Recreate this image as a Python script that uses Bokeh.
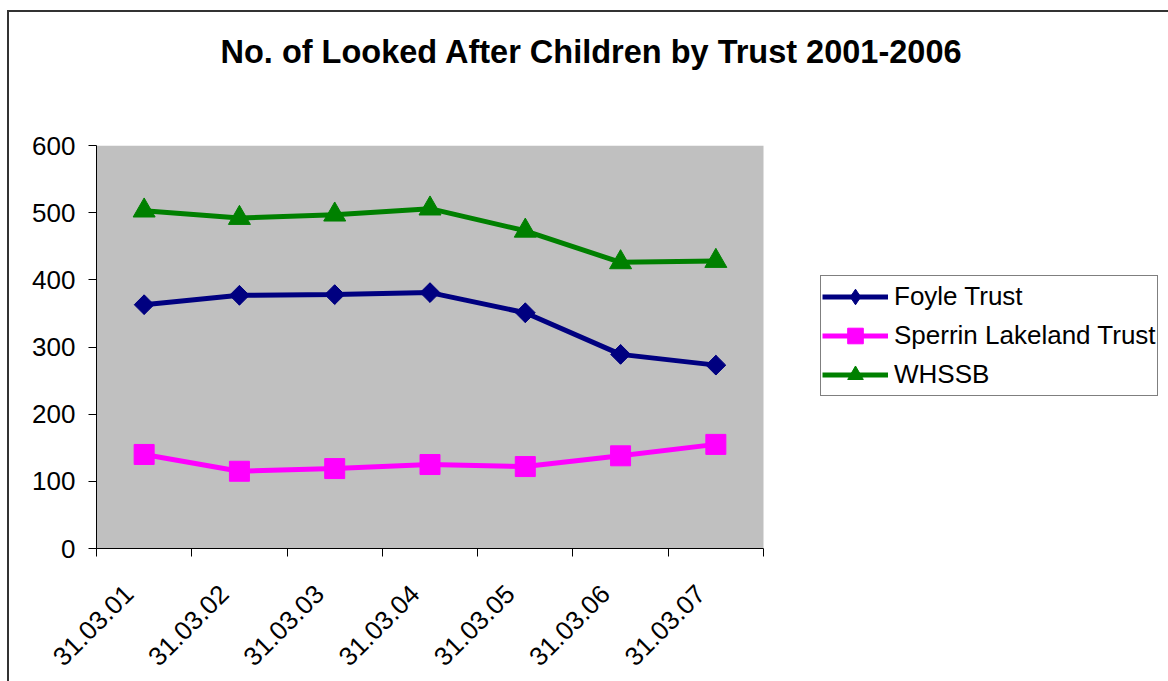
import math
from bokeh.plotting import figure
from bokeh.models import (Range1d, FixedTicker, Legend, LegendItem, Title, InlineStyleSheet,
                          BoxAnnotation)
from bokeh.embed import file_html
from bokeh.resources import INLINE

categories = ["31.03.01", "31.03.02", "31.03.03", "31.03.04", "31.03.05", "31.03.06", "31.03.07"]
foyle = [363, 377, 378, 381, 351, 289, 273]
sperrin = [140, 115, 119, 125, 122, 138, 155]
whssb = [503, 492, 497, 506, 473, 426, 428]
y_ticks = [0, 100, 200, 300, 400, 500, 600]
title_text = "No. of Looked After Children by Trust  2001-2006"

FONT = "Liberation Sans"
FS = "26px"
n = len(categories)
xs = [i + 0.5 for i in range(n)]

# Frame spans to the right edge so the legend (drawn inside it) is not clipped;
# the grey plot area covers only the categories.
W, H = 1168, 681
LEFT, TOP, BOTTOM = 96, 145, 133
plot_w = 667  # pixel width of the grey plot area
x_end = n * (W - LEFT) / plot_w

p = figure(width=W, height=H, output_backend="svg", toolbar_location=None,
           x_range=Range1d(0, x_end), y_range=Range1d(0, 600),
           min_border_left=LEFT, min_border_right=0, min_border_top=TOP, min_border_bottom=BOTTOM)
p.background_fill_color = "white"
p.border_fill_color = "white"
p.outline_line_color = None
p.xgrid.visible = False
p.ygrid.visible = False

plot_area = BoxAnnotation(left=0, right=n, bottom=0, top=600, fill_color="#C0C0C0",
                          fill_alpha=1, line_color=None, level="underlay")
p.add_layout(plot_area)

# x axis: labels near category centres, ticks at category boundaries
label_pos = [x - 0.16 for x in xs]
xa = p.xaxis[0]
xa.bounds = (0, n)
xa.ticker = FixedTicker(ticks=label_pos, minor_ticks=list(range(n + 1)))
xa.major_label_overrides = {x: c for x, c in zip(label_pos, categories)}
xa.major_tick_line_color = None
xa.major_tick_in = 0
xa.major_tick_out = 8
xa.minor_tick_in = 0
xa.minor_tick_out = 8
xa.minor_tick_line_color = "black"
xa.axis_line_color = "black"
xa.major_label_orientation = math.pi / 4
xa.major_label_text_font = FONT
xa.major_label_text_font_size = FS
xa.major_label_text_color = "black"
xa.major_label_standoff = 33

ya = p.yaxis[0]
ya.ticker = FixedTicker(ticks=y_ticks)
ya.minor_tick_line_color = None
ya.major_tick_in = 0
ya.major_tick_out = 8
ya.major_tick_line_color = "black"
ya.axis_line_color = "black"
ya.major_label_text_font = FONT
ya.major_label_text_font_size = FS
ya.major_label_text_color = "black"
ya.major_label_standoff = 13

series = [
    ("Foyle Trust", foyle, "#000080", "square", 14, math.pi / 4),
    ("Sperrin Lakeland Trust", sperrin, "#FF00FF", "square", 20, 0),
    ("WHSSB", whssb, "#008000", "triangle", 22, 0),
]
items = []
for name, vals, col, mk, sz, ang in series:
    ln = p.line(xs, vals, line_color=col, line_width=5)
    if ang:
        # diamond shape (legend draws markers unrotated, so it uses this one)
        dm = p.scatter(xs, vals, marker="diamond", size=19, fill_color=col, line_color=col)
        p.scatter(xs, vals, marker=mk, size=sz, angle=ang, fill_color=col, line_color=col)
        items.append(LegendItem(label=name, renderers=[ln, dm]))
    else:
        sc = p.scatter(xs, vals, marker=mk, size=sz, fill_color=col, line_color=col)
        items.append(LegendItem(label=name, renderers=[ln, sc]))

legend = Legend(items=items, location=(724, 152))
legend.label_text_font = FONT
legend.label_text_font_size = FS
legend.label_text_color = "black"
legend.glyph_width = 66
legend.glyph_height = 39
legend.label_height = 39
legend.label_standoff = 6
legend.spacing = 0
legend.padding = 1
legend.margin = 0
legend.border_line_color = "black"
legend.border_line_width = 1
legend.background_fill_color = "white"
legend.background_fill_alpha = 1
p.add_layout(legend, "center")

# spacer between frame and title (added first, so it sits nearest the frame)
spacer = Title(text=" ", standoff=58, text_font=FONT, text_font_size="10px")
p.add_layout(spacer, "above")
title = Title(text=title_text, align="left", offset=124, standoff=10,
              text_font=FONT, text_font_size="32.5px",
              text_font_style="bold", text_color="black")
p.add_layout(title, "above")

# outer chart border (top and left edges visible, as in the reference)
p.stylesheets = [InlineStyleSheet(css=""":host::after {
  content: ""; position: absolute; left: 7px; top: 10px; right: 0px; bottom: 0px;
  border-left: 2px solid #333333; border-top: 2px solid #333333;
  pointer-events: none; box-sizing: border-box;
}
:host { position: relative; }""")]

open("out.html", "w").write(file_html(p, INLINE))
